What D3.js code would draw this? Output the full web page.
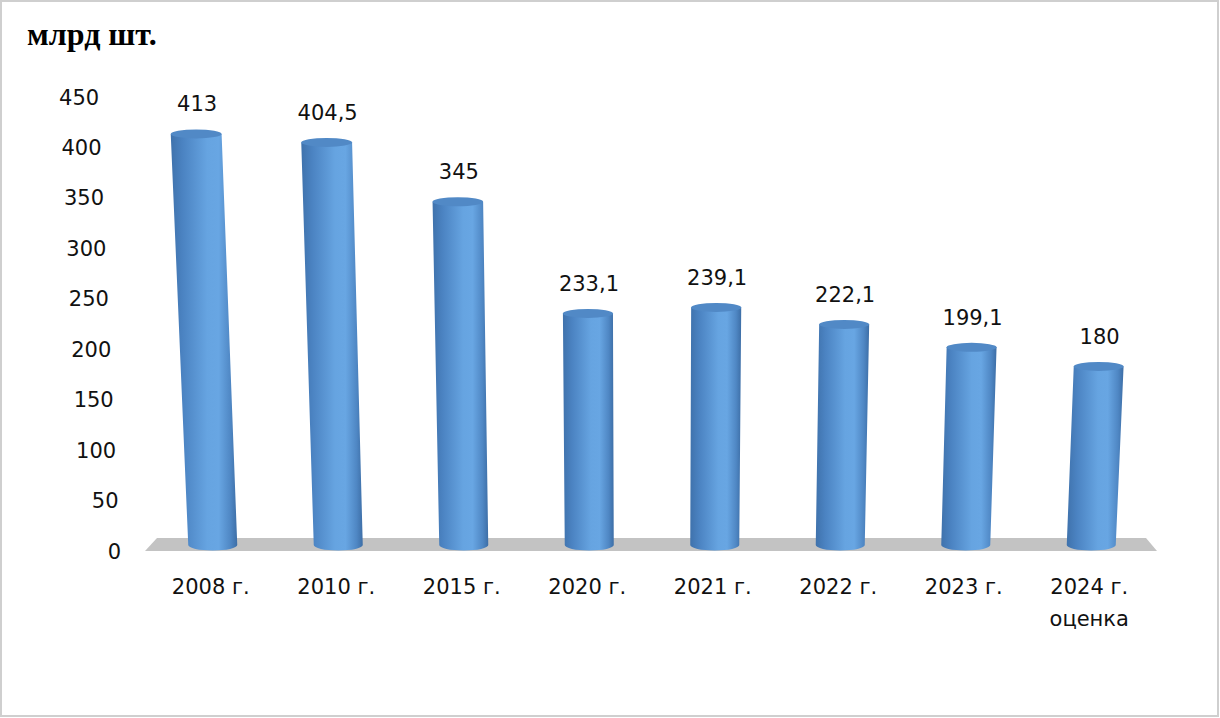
<!DOCTYPE html>
<html>
<head>
<meta charset="utf-8">
<script src="https://cdn.jsdelivr.net/npm/d3@7"></script>
<style>
  body { margin: 0; background: #fff; }
  svg text { font-family: "DejaVu Sans", Verdana, sans-serif; fill: #111; }
</style>
</head>
<body>
<div id="chart"></div>
<script>
// Data
var categories = [["2008 г."], ["2010 г."], ["2015 г."], ["2020 г."], ["2021 г."], ["2022 г."], ["2023 г."], ["2024 г.", "оценка"]];
var values = [413, 404.5, 345, 233.1, 239.1, 222.1, 199.1, 180];
var yTicks = [0, 50, 100, 150, 200, 250, 300, 350, 400, 450];
var unitLabel = "млрд шт.";

var W = 1220, H = 718;
var baseY = 545;          // floor line where cylinders stand
var vpX = 650, vpD = 11000; // slight perspective: verticals spread upward

var svg = d3.select("#chart").append("svg").attr("width", W).attr("height", H);

// frame
svg.append("rect").attr("x", 1).attr("y", 1).attr("width", W - 3).attr("height", H - 3)
  .style("fill", "#fff").style("stroke", "#cfcfcf").style("stroke-width", 2);

var x = d3.scaleBand().domain(d3.range(values.length)).range([150, 1154]).paddingInner(0).paddingOuter(0);
var yBar = d3.scaleLinear().domain([0, 450]).range([546, 97]);
var yAxis = d3.scaleLinear().domain([0, 450]).range([551, 97]);

function persp(px, py) {
  var h = 551 - py;
  return vpX + (px - vpX) * (1 + h / vpD);
}
function spread(py) { return 1 + (551 - py) / vpD; }

// gradient for cylinder body
var defs = svg.append("defs");
var grad = defs.append("linearGradient").attr("id", "cyl").attr("x1", "0%").attr("x2", "100%").attr("y1", "0%").attr("y2", "0%");
[["0%", "#3f72ac"], ["18%", "#4b83c2"], ["55%", "#66a4e1"], ["72%", "#68a6e3"], ["90%", "#4f87c4"], ["100%", "#3d6ea6"]]
  .forEach(function(s){ grad.append("stop").attr("offset", s[0]).attr("stop-color", s[1]); });

// floor
var fx0 = x.range()[0] - 5, fx1 = x.range()[1] + 3;
svg.append("polygon")
  .attr("points", [[fx0, 551], [fx0 + 12, 538], [fx1 - 11, 538], [fx1, 551]].map(function(p){ return p.join(","); }).join(" "))
  .style("fill", "#c3c3c3");

// y tick labels (right edges lean with the perspective)
svg.selectAll(".ytick").data(yTicks).enter().append("text")
  .attr("class", "ytick")
  .attr("x", function(d){ return persp(121, yAxis(d)); })
  .attr("y", function(d){ return yAxis(d); })
  .attr("dy", "0.36em")
  .attr("text-anchor", "end")
  .style("font-size", "21px")
  .text(function(d){ return d; });

// cylinders
var halfW = 24.5, rBottom = 5.5, rTop = 4.5;
var bars = svg.selectAll(".bar").data(values).enter().append("g").attr("class", "bar");

bars.append("path")
  .attr("d", function(d, i){
    var bx = x(i) + x.bandwidth() / 2;
    var ty = yBar(d);
    var tx = persp(bx, ty), tw = halfW * spread(ty);
    return "M" + (bx - halfW) + "," + baseY +
      "L" + (tx - tw) + "," + ty +
      "L" + (tx + tw) + "," + ty +
      "L" + (bx + halfW) + "," + baseY +
      "A" + halfW + "," + rBottom + " 0 0 1 " + (bx - halfW) + "," + baseY + "Z";
  })
  .style("fill", "url(#cyl)");

bars.append("ellipse")
  .attr("cx", function(d, i){ return persp(x(i) + x.bandwidth() / 2, yBar(d)); })
  .attr("cy", function(d){ return yBar(d); })
  .attr("rx", function(d){ return halfW * spread(yBar(d)); })
  .attr("ry", rTop)
  .style("fill", "#5189c6");

// value labels
bars.append("text")
  .attr("x", function(d, i){ return persp(x(i) + x.bandwidth() / 2, yBar(d)) + 1; })
  .attr("y", function(d){ return yBar(d) - 30; })
  .attr("dy", "0.36em")
  .attr("text-anchor", "middle")
  .style("font-size", "21px")
  .text(function(d){ return String(d).replace(".", ","); });

// category labels
var cat = svg.selectAll(".cat").data(categories).enter().append("text")
  .attr("class", "cat")
  .attr("text-anchor", "middle")
  .style("font-size", "21px");
cat.selectAll("tspan").data(function(d, i){ return d.map(function(t){ return {t: t, i: i}; }); })
  .enter().append("tspan")
  .attr("x", function(d){ return x(d.i) + x.bandwidth() / 2 - 2; })
  .attr("y", function(d, j){ return 594 + j * 32; })
  .text(function(d){ return d.t; });

// unit title
svg.append("text")
  .attr("x", 27).attr("y", 45)
  .style("font-family", "'Liberation Serif', 'Times New Roman', serif")
  .style("font-weight", "bold")
  .style("font-size", "32px")
  .style("fill", "#000")
  .text(unitLabel);
</script>
</body>
</html>
